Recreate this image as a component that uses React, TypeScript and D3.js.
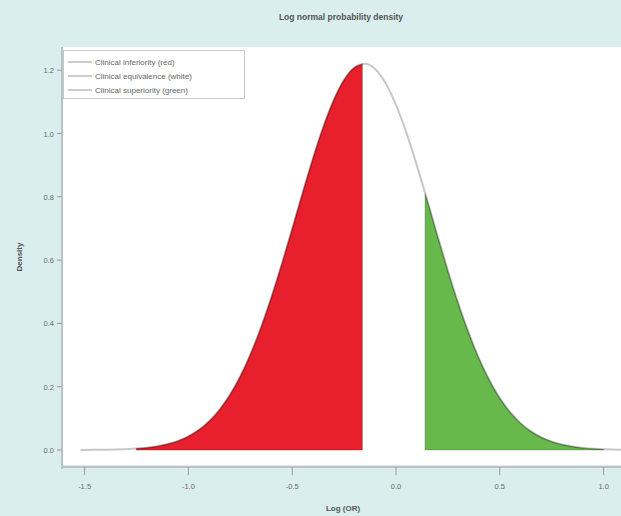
import React from "react";
import * as d3 from "d3";

// Log(OR) grid and density values
const logOR = [
  -1.52, -1.45, -1.4, -1.35, -1.3, -1.25, -1.2, -1.15, -1.1, -1.05, -1.0,
  -0.95, -0.9, -0.85, -0.8, -0.75, -0.7, -0.65, -0.6, -0.55, -0.5, -0.45, -0.4,
  -0.35, -0.3, -0.25, -0.2, -0.15, -0.1, -0.05, 0.0, 0.05, 0.1, 0.15, 0.2, 0.25,
  0.3, 0.35, 0.4, 0.45, 0.5, 0.55, 0.6, 0.65, 0.7, 0.75, 0.8, 0.85, 0.9, 0.95,
  1.0, 1.05, 1.1,
];
const density = [
  0.0002, 0.0005, 0.0009, 0.0015, 0.0027, 0.0045, 0.0074, 0.0119, 0.0187,
  0.0288, 0.0433, 0.0636, 0.091, 0.1275, 0.1745, 0.2331, 0.3043, 0.388, 0.4834,
  0.5882, 0.6993, 0.8122, 0.9215, 1.0213, 1.1058, 1.1696, 1.2085, 1.22, 1.2029,
  1.1587, 1.0903, 1.0024, 0.9002, 0.7897, 0.6767, 0.5666, 0.4633, 0.3703, 0.2889,
  0.2203, 0.1641, 0.1194, 0.0849, 0.059, 0.04, 0.0265, 0.0171, 0.0108, 0.0067,
  0.004, 0.0024, 0.0014, 0.0008,
];
// Region bounds (log OR) and the density at each bound
const redRange = [-1.25, -0.1625];
const redEdgeDensity = [0.0045, 1.219];
const greenRange = [0.14, 1.0];
const greenEdgeDensity = [0.81, 0.0024];

const xTicks = [-1.5, -1.0, -0.5, 0.0, 0.5, 1.0];
const yTicks = [0.0, 0.2, 0.4, 0.6, 0.8, 1.0, 1.2];
const legendLabels = [
  "Clinical inferiority (red)",
  "Clinical equivalence (white)",
  "Clinical superiority (green)",
];
const titleText = "Log normal probability density";
const xTitle = "Log (OR)";
const yTitle = "Density";

type P = { x: number; y: number };

export default function App() {
  const W = 621;
  const H = 516;
  const plot = { left: 62, top: 47, right: 621, bottom: 465 };

  const x = d3.scaleLinear().domain([0, 0.5]).range([396, 499.8]);
  const y = d3.scaleLinear().domain([0, 1.2]).range([450, 70.2]);

  const pts: P[] = logOR.map((v, i) => ({ x: v, y: density[i] }));

  const region = (r: number[], e: number[]): P[] => [
    { x: r[0], y: e[0] },
    ...pts.filter((p) => p.x > r[0] && p.x < r[1]),
    { x: r[1], y: e[1] },
  ];

  const area = d3
    .area<P>()
    .x((d) => x(d.x))
    .y0(y(0))
    .y1((d) => y(d.y))
    .curve(d3.curveMonotoneX);
  const line = d3
    .line<P>()
    .x((d) => x(d.x))
    .y((d) => y(d.y))
    .curve(d3.curveMonotoneX);

  const font = "'Liberation Sans', Arial, sans-serif";

  return (
    <svg
      width={W}
      height={H}
      style={{ position: "absolute", left: 0, top: 0 }}
      fontFamily={font}
    >
      <defs>
        <clipPath id="plotclip">
          <rect
            x={plot.left}
            y={plot.top}
            width={plot.right - plot.left}
            height={plot.bottom - plot.top}
          />
        </clipPath>
      </defs>
      <rect x={0} y={0} width={W} height={H} fill="#daeeed" />
      <rect
        x={plot.left}
        y={plot.top}
        width={plot.right - plot.left}
        height={plot.bottom - plot.top}
        fill="#ffffff"
      />
      <text
        x={341}
        y={20}
        textAnchor="middle"
        fontSize={8.5}
        fontWeight="bold"
        fill="#555"
      >
        {titleText}
      </text>

      <g clipPath="url(#plotclip)">
        <path
          d={area(region(redRange, redEdgeDensity)) || ""}
          fill="#e8202e"
          stroke="rgba(120,0,0,0.35)"
          strokeWidth={1.2}
        />
        <path
          d={area(region(greenRange, greenEdgeDensity)) || ""}
          fill="#68b94b"
          stroke="rgba(0,0,0,0.18)"
          strokeWidth={1.2}
        />
        <path
          d={line(pts) || ""}
          fill="none"
          stroke="rgba(0,0,0,0.22)"
          strokeWidth={2}
        />
      </g>

      {/* axes */}
      <line x1={62} x2={62} y1={plot.top} y2={469} stroke="#b9c4c4" strokeWidth={2} />
      <line x1={61} x2={plot.right} y1={467} y2={467} stroke="#b9c4c4" strokeWidth={2} />
      {yTicks.map((t) => (
        <g key={"y" + t}>
          <line x1={57} x2={62} y1={y(t)} y2={y(t)} stroke="#999" strokeWidth={1} />
          <text x={54} y={y(t) + 3} textAnchor="end" fontSize={7.5} fill="#6a6a6a">
            {t.toFixed(1)}
          </text>
        </g>
      ))}
      {xTicks.map((t) => (
        <g key={"x" + t}>
          <line x1={x(t)} x2={x(t)} y1={467} y2={475} stroke="#999" strokeWidth={1} />
          <text x={x(t)} y={489} textAnchor="middle" fontSize={7.5} fill="#6a6a6a">
            {t.toFixed(1)}
          </text>
        </g>
      ))}
      <text
        x={343}
        y={511}
        textAnchor="middle"
        fontSize={8}
        fontWeight="bold"
        fill="#555"
      >
        {xTitle}
      </text>
      <text
        transform="translate(22,257) rotate(-90)"
        textAnchor="middle"
        fontSize={8}
        fontWeight="bold"
        fill="#555"
      >
        {yTitle}
      </text>

      {/* legend */}
      <rect
        x={63.5}
        y={50.5}
        width={181}
        height={48}
        fill="#ffffff"
        stroke="#c8c8c8"
        strokeWidth={1}
      />
      {legendLabels.map((l, i) => (
        <g key={l}>
          <line
            x1={68}
            x2={92}
            y1={62 + i * 14}
            y2={62 + i * 14}
            stroke="#bbb"
            strokeWidth={1.5}
          />
          <text x={95} y={65 + i * 14} fontSize={8} fill="#666">
            {l}
          </text>
        </g>
      ))}
    </svg>
  );
}
